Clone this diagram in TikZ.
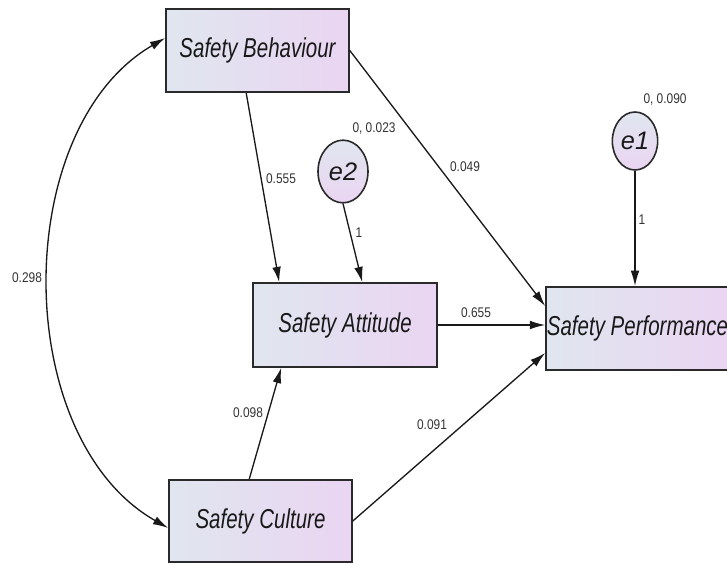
\documentclass[tikz,border=0pt]{standalone}
\usepackage{fontspec}
\setmainfont{Liberation Sans}
\newfontfamily\boxfont[FakeStretch=0.75]{Liberation Sans}
\newfontfamily\efont{Liberation Sans}
\newfontfamily\lblfont[FakeStretch=0.85]{Liberation Sans}
\usetikzlibrary{arrows.meta,calc,shapes.geometric}
\definecolor{boxL}{HTML}{E0E6EF}
\definecolor{boxR}{HTML}{EAD5F2}
\definecolor{edgec}{HTML}{2A2A2A}
\definecolor{lblc}{HTML}{333333}
\tikzset{
  varbox/.style={rectangle, draw=edgec, line width=1.2pt, minimum width=137.25pt,
    minimum height=62.5pt, inner sep=0pt, left color=boxL, right color=boxR,
    font=\boxfont\itshape\fontsize{20.5}{24}\selectfont, text=black!90},
  errnode/.style={ellipse, draw=edgec, line width=1.2pt, inner sep=0pt,
    top color=boxL, bottom color=boxR,
    font=\efont\itshape\fontsize{19}{22}\selectfont, text=black!90},
  lbl/.style={font=\lblfont\fontsize{10.5}{12}\selectfont, text=lblc, inner sep=0pt},
  conn/.style={draw=black!90, line width=1pt, -{Latex[length=11.5pt,width=6.5pt]}},
  dconn/.style={draw=black!90, line width=1pt, {Latex[length=11.5pt,width=6.5pt]}-{Latex[length=11.5pt,width=6.5pt]}}
}
\begin{document}
\begin{tikzpicture}[x=0.75pt,y=-0.75pt]
\useasboundingbox (0,0) rectangle (727,563);
\begin{scope}
\clip (0,0) rectangle (727,563);
% boxes
\node[varbox] (sb) at (257.5,50.5) {Safety Behaviour};
\node[varbox, minimum width=138pt, minimum height=63pt] (sa) at (345,325) {Safety Attitude};
\node[varbox, minimum height=61.5pt] (sc) at (260.5,521) {Safety Culture};
\node[varbox] (sp) at (637.5,328.5) {Safety Performance};
% error terms
\node[errnode, minimum width=37.5pt, minimum height=47pt] (e2) at (343,171.5) {e2};
\node[errnode, minimum width=34pt, minimum height=43.5pt] (e1) at (635,141) {e1};
% paths
\draw[conn] ($(sb.south west)+(81,0)$) -- ($(sa.north west)+(27,0)$);
\draw[conn] (e2.south) -- ($(sa.north west)+(110,0)$);
\draw[conn] (sb.east) -- ($(sp.north west)+(0,20)$);
\draw[conn] (sa.east) -- (sa.east -| sp.west);
\draw[conn] (e1.south) -- (e1.south |- sp.north);
\draw[conn] ($(sc.north west)+(81,0)$) -- ($(sa.south west)+(29,0)$);
\draw[conn] (sc.east) -- ($(sp.south west)+(0,-18)$);
% covariance
\coordinate (covA) at ($(sb.west)+(0,-12.5)$);
\coordinate (covB) at ($(sc.west)+(0,7)$);
\draw[dconn] (covA) .. controls (10,128) and (10,438) .. (covB);
% labels
\node[lbl] (l1) at (374,129) {0, 0.023};
\node[lbl] (l2) at (665,100) {0, 0.090};
\node[lbl] (l3) at (281,179) {0.555};
\node[lbl] (l4) at (359,233) {1};
\node[lbl] (l5) at (465,167) {0.049};
\node[lbl] (l6) at (642,220) {1};
\node[lbl] (l7) at (476,313) {0.655};
\node[lbl] (l8) at (248,413) {0.098};
\node[lbl] (l9) at (432,425) {0.091};
\node[lbl] (l10) at (27,278) {0.298};
\end{scope}
\end{tikzpicture}
\end{document}
